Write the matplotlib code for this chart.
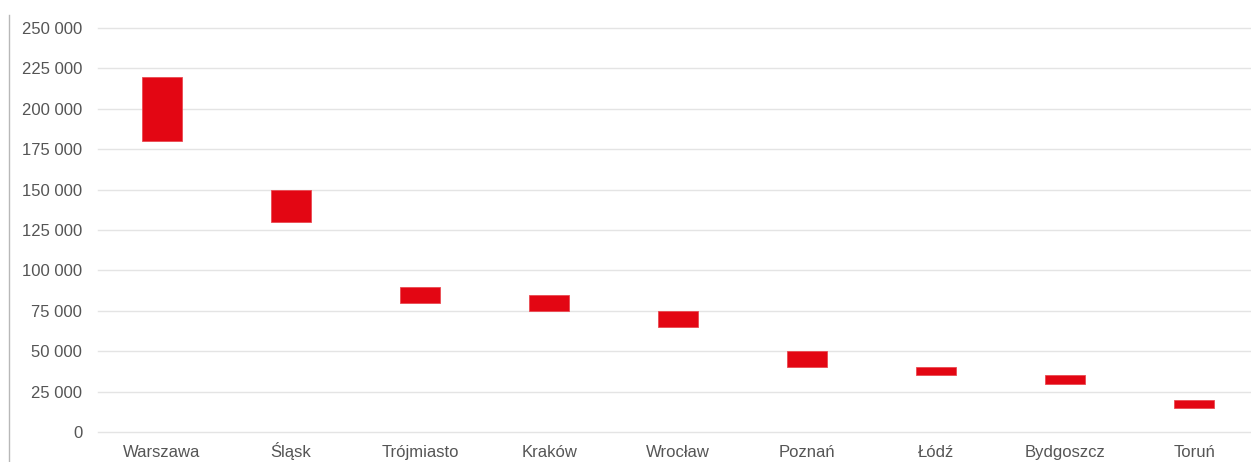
import numpy as np
import matplotlib.pyplot as plt
from matplotlib.ticker import FuncFormatter
from matplotlib.lines import Line2D

# salary ranges per region (PLN)
cities = ["Warszawa", "Śląsk", "Trójmiasto", "Kraków", "Wrocław",
          "Poznań", "Łódź", "Bydgoszcz", "Toruń"]
range_low = [180000, 130000, 80000, 75000, 65000, 40000, 35000, 30000, 15000]
range_high = [220000, 150000, 90000, 85000, 75000, 50000, 40000, 35000, 20000]

plt.rcParams["font.family"] = ["Liberation Sans", "DejaVu Sans"]

fig = plt.figure(figsize=(12.51, 4.62), dpi=100)
ax = fig.add_axes([0.078, 0.0649, 0.922, 0.8744])

x = np.arange(len(cities))
low = np.array(range_low)
high = np.array(range_high)
ax.bar(x, high - low, bottom=low, width=0.31, color="#e30613",
       edgecolor="#ea4a52", linewidth=0.6, zorder=3)

ax.set_ylim(0, 250000)
ax.set_xlim(-0.5, 8.44)
ax.set_yticks(np.arange(0, 250001, 25000))
ax.yaxis.set_major_formatter(FuncFormatter(lambda v, p: f"{int(v):,}".replace(",", " ")))
ax.set_xticks(x)
ax.set_xticklabels(cities)

ax.grid(axis="y", color="#e4e4e4", linewidth=1.0, zorder=0)
for gl in ax.yaxis.get_gridlines():
    gl.set_clip_on(False)
ax.tick_params(axis="y", length=0, pad=11, labelsize=12, labelcolor="#555555")
ax.tick_params(axis="x", length=0, pad=18, labelsize=12, labelcolor="#555555")
# keep city names on a common baseline despite accents
for lbl in ax.get_xticklabels():
    lbl.set_verticalalignment("baseline")
for s in ax.spines.values():
    s.set_visible(False)

# thin vertical rule on the far left
fig.add_artist(Line2D([0.0068, 0.0068], [0.0, 0.968], transform=fig.transFigure,
                      color="#b8b8b8", linewidth=1.0))

fig.savefig("out.png", dpi=100)
